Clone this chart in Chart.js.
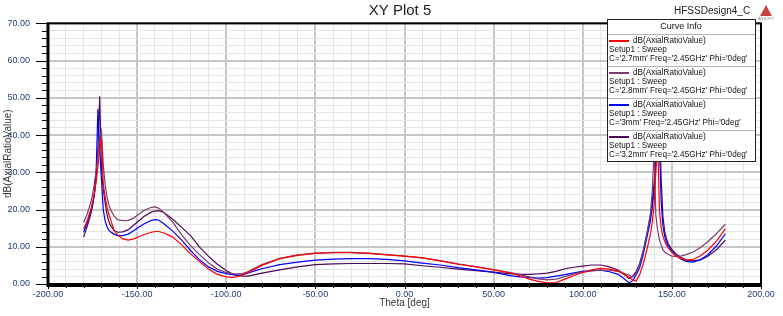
<!DOCTYPE html>
<html>
<head>
<meta charset="utf-8">
<title>XY Plot 5</title>
<script src="https://cdn.jsdelivr.net/npm/chart.js@4/dist/chart.umd.min.js"></script>
<style>
  html, body { margin:0; padding:0; background:#fff; }
</style>
</head>
<body>
<canvas id="plot" width="783" height="316"></canvas>
<script>
// DATA

const theta = [
  -180,-178,-176,-175,-174,-173,-172,-171,-170,-169,
  -168,-167,-166,-165,-163,-161,-158,-155,-152,-150,
  -146,-142,-140,-138,-135,-130,-125,-120,-115,-110,
  -105,-100,-97,-94,-91,-88,-85,-80,-70,-60,
  -50,-40,-30,-20,-10,0,10,20,30,40,
  50,60,65,70,75,80,85,90,95,100,
  105,110,115,120,123,126,128,130,132,134,
  136,138,139,140,141,142,143,144,145,146,
  147,148,150,152,155,158,162,166,170,175,
  180
];

// C = 2.7mm
const ar27 = [
  14.8,17.0,20.0,22.0,24.5,27.5,31.5,36.0,39.0,27.0,
  23.5,21.0,19.0,17.5,14.5,13.2,12.1,11.8,12.1,12.5,
  13.3,13.9,14.1,14.1,13.7,12.6,10.5,8.1,6.0,4.0,
  2.6,1.9,1.8,1.9,2.4,3.1,3.8,5.0,6.8,7.7,
  8.2,8.4,8.4,8.2,7.8,7.5,7.0,6.2,5.3,4.6,
  3.8,2.9,2.2,1.3,0.7,0.3,0.4,1.3,2.3,3.1,
  3.8,4.2,4.0,3.4,2.6,1.8,1.1,0.8,2.6,5.5,
  9.2,13.5,16.5,21.0,30.0,40.0,20.0,15.0,12.8,11.4,
  10.4,9.6,8.5,7.6,6.8,6.4,6.6,7.6,9.0,11.5,
  14.8
];

// C = 2.8mm
const ar28 = [
  16.6,18.8,21.9,24.0,27.0,30.5,34.5,39.0,41.0,32.0,
  27.0,23.5,21.5,20.0,18.3,17.3,17.0,17.1,17.7,18.4,
  19.8,20.6,20.7,20.4,19.2,16.6,13.2,10.3,7.9,5.7,
  4.0,3.1,2.8,2.7,2.8,3.3,4.0,5.2,6.9,7.8,
  8.3,8.5,8.5,8.3,7.9,7.5,7.0,6.3,5.4,4.7,
  3.9,3.0,2.5,1.9,1.4,1.1,1.3,2.0,2.7,3.2,
  3.5,3.7,3.7,3.4,2.9,2.4,1.9,3.0,5.5,9.0,
  13.5,19.0,25.0,36.0,18.5,14.5,12.0,10.5,9.2,8.6,
  8.2,7.9,7.5,7.4,7.5,7.9,8.6,9.8,11.3,13.5,
  16.1
];

// C = 3mm
const ar30 = [
  13.9,16.5,19.5,21.5,24.0,30.0,47.0,36.0,28.0,20.0,
  17.0,15.5,14.5,14.0,13.4,13.0,13.0,13.4,14.3,15.0,
  16.2,17.1,17.3,17.2,16.2,14.2,11.8,9.0,6.5,4.6,
  3.4,2.8,2.5,2.4,2.5,2.9,3.4,4.1,5.2,5.9,
  6.4,6.7,6.8,6.8,6.6,6.2,5.6,5.1,4.4,3.8,
  3.1,2.2,1.9,1.7,1.6,1.7,2.1,2.5,3.0,3.4,
  3.6,3.7,3.3,2.6,1.5,0.3,0.9,2.5,4.5,8.0,
  12.5,17.0,20.5,25.0,32.0,42.0,38.0,22.0,15.5,12.8,
  11.2,10.2,8.8,7.7,6.7,6.1,5.9,6.5,7.8,10.2,
  13.5
];

// C = 3.2mm
const ar32 = [
  12.6,15.5,18.8,21.0,24.0,28.0,36.0,50.4,31.0,25.5,
  22.0,19.0,17.0,15.8,14.4,13.9,14.0,14.6,15.8,16.6,
  18.2,19.3,19.6,19.7,19.2,17.4,15.2,13.0,9.9,7.5,
  5.3,3.6,2.8,2.3,2.1,2.1,2.4,2.9,3.8,4.6,
  5.2,5.4,5.5,5.5,5.5,5.4,4.9,4.5,4.0,3.6,
  3.2,2.7,2.6,2.6,2.7,2.9,3.4,4.1,4.5,4.8,
  5.1,5.1,4.6,3.7,2.7,1.5,2.1,3.4,5.5,9.0,
  13.5,18.5,22.0,27.0,34.0,43.0,48.0,28.0,18.0,14.0,
  12.0,10.8,9.3,8.2,7.2,6.5,6.2,6.5,7.4,9.2,
  11.8
];

const curveNames = [
  "C='2.7mm' Freq='2.45GHz' Phi='0deg'",
  "C='2.8mm' Freq='2.45GHz' Phi='0deg'",
  "C='3mm' Freq='2.45GHz' Phi='0deg'",
  "C='3.2mm' Freq='2.45GHz' Phi='0deg'"
];
const curveColors = ["#ff0000", "#7e3c6c", "#0000ff", "#4e0858"];

// labelled ticks
const xLabels = [-200,-150,-100,-50,0,50,100,150,200];
const yLabels = [0,10,20,30,40,50,60,70];

const FONT = "'Liberation Sans', Arial, sans-serif";
const tickColor = "#203c78";

// EXTRA DRAWING: frame, tick marks, titles, curve info box

const hfssFrame = {
  id: "hfssFrame",
  beforeDraw(chart) {
    const ctx = chart.ctx;
    ctx.save();
    ctx.fillStyle = "#fff";
    ctx.fillRect(0, 0, chart.width, chart.height);
    ctx.restore();
  },
  afterDraw(chart) {
    const ctx = chart.ctx;
    const a = chart.chartArea;
    const xs = chart.scales.x;
    const ys = chart.scales.y;

    ctx.save();

    // tick marks
    ctx.strokeStyle = "#000";
    ctx.lineWidth = 1;
    ctx.beginPath();
    ys.ticks.forEach(t => {
      const py = Math.round(ys.getPixelForValue(t.value)) + 0.5;
      const len = yLabels.includes(t.value) ? 12 : 6;
      ctx.moveTo(a.left - len, py);
      ctx.lineTo(a.left, py);
    });
    xs.ticks.forEach(t => {
      const px = Math.round(xs.getPixelForValue(t.value)) + 0.5;
      const len = xLabels.includes(t.value) ? 5 : 4;
      ctx.moveTo(px, a.bottom);
      ctx.lineTo(px, a.bottom + len);
    });
    ctx.stroke();

    // frame
    ctx.lineWidth = 2;
    ctx.strokeRect(a.left, a.top, a.right - a.left, a.bottom - a.top);
    ctx.lineWidth = 3;
    ctx.beginPath();
    ctx.moveTo(a.left, a.top - 1);
    ctx.lineTo(a.left, a.bottom + 1.5);
    ctx.lineTo(a.right + 1, a.bottom + 1.5);
    ctx.stroke();

    // titles
    ctx.fillStyle = "#222";
    ctx.textBaseline = "middle";
    ctx.textAlign = "center";
    ctx.font = "15px " + FONT;
    ctx.fillText("XY Plot 5", 400, 11);
    ctx.textAlign = "left";
    ctx.font = "10px " + FONT;
    ctx.fillText("HFSSDesign4_C", 674, 11);

    // ansoft mark
    ctx.fillStyle = "#c84040";
    ctx.beginPath();
    ctx.moveTo(760, 16);
    ctx.lineTo(766, 5);
    ctx.lineTo(772, 16);
    ctx.closePath();
    ctx.fill();
    ctx.fillStyle = "#888";
    ctx.font = "4px " + FONT;
    ctx.textAlign = "center";
    ctx.fillText("ANSOFT", 766, 19);

    // curve info box
    const bx = 607, by = 19.5, bw = 148, head = 14, row = 32;
    const bh = head + row * curveNames.length;
    ctx.fillStyle = "#fff";
    ctx.fillRect(bx, by, bw, bh);
    ctx.strokeStyle = "#b4b4b4";
    ctx.lineWidth = 1;
    ctx.beginPath();
    for (let k = 0; k < curveNames.length; k++) {
      const sy = Math.round(by + head + row * k) + 0.5;
      ctx.moveTo(bx, sy);
      ctx.lineTo(bx + bw, sy);
    }
    ctx.stroke();
    ctx.strokeStyle = "#222";
    ctx.strokeRect(bx + 0.5, by, bw, bh);

    ctx.fillStyle = "#111";
    ctx.textAlign = "center";
    ctx.font = "9px " + FONT;
    ctx.fillText("Curve Info", bx + bw / 2, by + 7);

    ctx.textAlign = "left";
    ctx.font = "8.2px " + FONT;
    curveNames.forEach((name, k) => {
      const top = by + head + row * k;
      ctx.strokeStyle = curveColors[k];
      ctx.lineWidth = 2;
      ctx.beginPath();
      ctx.moveTo(bx + 2, top + 7.5);
      ctx.lineTo(bx + 22, top + 7.5);
      ctx.stroke();
      ctx.fillStyle = "#111";
      ctx.fillText("dB(AxialRatioValue)", bx + 26, top + 7.5);
      ctx.fillText("Setup1 : Sweep", bx + 2, top + 16.5);
      ctx.fillText(name, bx + 2, top + 25.5);
    });

    ctx.restore();
  }
};

// CHART

const curves = [ar27, ar28, ar30, ar32];

const datasets = curves.map((vals, i) => ({
  label: curveNames[i],
  data: theta.map((t, j) => ({ x: t, y: vals[j] })),
  borderColor: curveColors[i],
  backgroundColor: curveColors[i],
  borderWidth: 1.2,
  pointRadius: 0,
  tension: 0,
  fill: false
}));

function gridColor(c) {
  return c.tick && c.tick.value % (c.scale.axis === "x" ? 50 : 10) === 0 ? "#c6c6c6" : "#e6e6e6";
}
function gridWidth(c) {
  return c.tick && c.tick.value % (c.scale.axis === "x" ? 50 : 10) === 0 ? 2 : 1;
}

new Chart(document.getElementById("plot"), {
  type: "line",
  data: { datasets: datasets },
  options: {
    responsive: false,
    animation: false,
    devicePixelRatio: 1,
    layout: { padding: { top: 21, right: 22, left: 0, bottom: 0 } },
    plugins: {
      legend: { display: false },
      tooltip: { enabled: false }
    },
    scales: {
      x: {
        type: "linear",
        min: -200,
        max: 200,
        afterFit: s => { s.height = 32; },
        border: { display: false },
        grid: { color: gridColor, lineWidth: gridWidth, drawTicks: false },
        ticks: {
          stepSize: 10,
          autoSkip: false,
          maxRotation: 0,
          padding: 5,
          color: tickColor,
          font: { family: FONT, size: 9 },
          callback: v => xLabels.includes(v) ? v.toFixed(2) : ""
        },
        title: {
          display: true,
          text: "Theta [deg]",
          color: "#333",
          font: { family: FONT, size: 10 },
          padding: { top: 0, bottom: 7 }
        }
      },
      y: {
        min: 0,
        max: 70,
        afterFit: s => { s.width = 48; },
        border: { display: false },
        grid: { color: gridColor, lineWidth: gridWidth, drawTicks: false },
        ticks: {
          stepSize: 2,
          autoSkip: false,
          padding: 18,
          color: tickColor,
          font: { family: FONT, size: 9 },
          callback: v => yLabels.includes(v) ? v.toFixed(2) : ""
        },
        title: {
          display: true,
          text: "dB(AxialRatioValue)",
          color: "#333",
          font: { family: FONT, size: 10 },
          padding: { top: 2, bottom: 0 }
        }
      }
    }
  },
  plugins: [hfssFrame]
});
</script>
</body>
</html>
